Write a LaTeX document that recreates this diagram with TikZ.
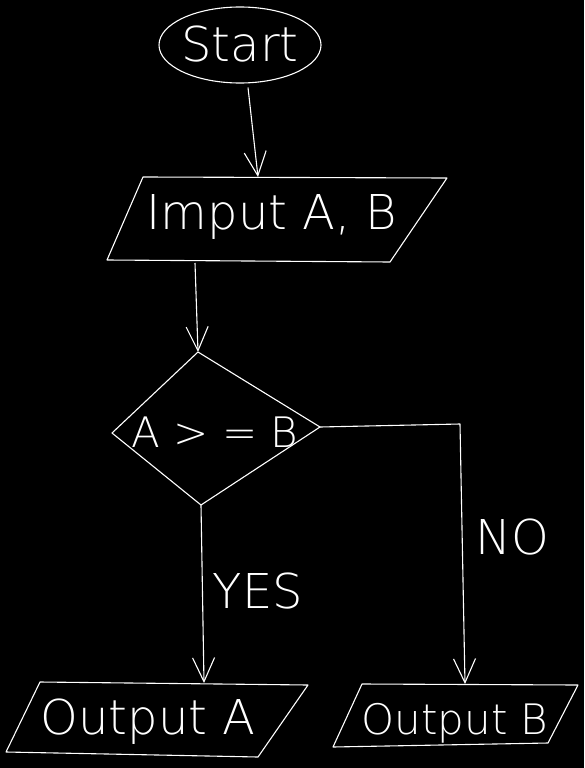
\documentclass[tikz,border=0pt]{standalone}
\usepackage{fontspec}
\usepackage{tikz}
\usetikzlibrary{arrows.meta, shapes.geometric, calc}
\newfontfamily\handfont{DejaVu Sans ExtraLight}
\definecolor{boardbg}{HTML}{000000}
\definecolor{chalk}{HTML}{FFFFFF}

\begin{document}
\begin{tikzpicture}[x=1pt, y=-1pt,
    outline/.style={draw=chalk, line width=1.1pt, line join=round},
    flowarrow/.style={outline, -{Straight Barb[length=24pt, width=22pt, line width=1.1pt]}},
    chalktext/.style={text=chalk, font=\handfont\fontsize{48}{50}\selectfont, inner sep=0pt, anchor=base}]
    % Black board
    \fill[boardbg] (0,0) rectangle (584,768);
    \useasboundingbox (0,0) rectangle (584,768);

    % Start ellipse
    \node[outline, ellipse, minimum width=162pt, minimum height=76pt, inner sep=0pt] (start) at (240,45) {};
    \node[chalktext] (starttext) at (240,62) {Start};

    % Input parallelogram
    \draw[outline] (143,177) -- (447,178) -- (390,262) -- (107,260) -- cycle;
    \coordinate (inputtop) at (258,177);
    \coordinate (inputbot) at (195,263);
    \node[chalktext] (inputtext) at (272,229) {Imput A, B};

    % Decision diamond
    \coordinate (dtop) at (198,352);
    \coordinate (dright) at (320,427);
    \coordinate (dbot) at (201,505);
    \coordinate (dleft) at (112,433);
    \draw[outline] (dtop) -- (dright) -- (dbot) -- (dleft) -- cycle;
    \node[chalktext, font=\handfont\fontsize{42}{44}\selectfont] (decisiontext) at (215,447) {A > = B};

    % Output boxes
    \draw[outline] (40,682) -- (308,685) -- (258,757) -- (6,752) -- cycle;
    \coordinate (outatop) at (204,683);
    \node[chalktext] (outatext) at (148,734) {Output A};
    \draw[outline] (362,684) -- (578,685) -- (548,743) -- (333,747) -- cycle;
    \coordinate (outbtop) at (465,684);
    \node[chalktext, font=\handfont\fontsize{42}{44}\selectfont] (outbtext) at (455,734) {Output B};

    % Connectors
    \draw[flowarrow] ([xshift=8pt, yshift=-4pt]start.south) -- (inputtop);
    \draw[flowarrow] (inputbot) -- (dtop);
    \draw[flowarrow] (dbot) -- (outatop);
    \coordinate (nocorner) at (460,424);
    \draw[flowarrow] (dright) -- (nocorner) -- (outbtop);

    % Branch labels
    \node[chalktext] (yestext) at (258,608) {YES};
    \node[chalktext] (notext) at (512,554) {NO};
\end{tikzpicture}
\end{document}
